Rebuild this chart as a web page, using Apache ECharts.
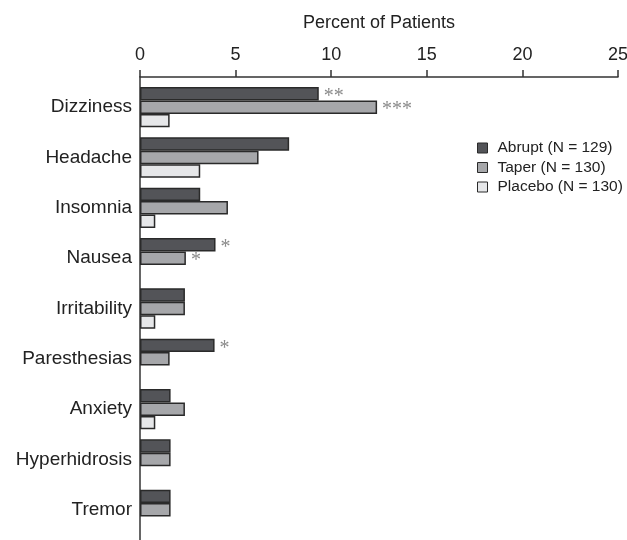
<!DOCTYPE html>
<html>
<head>
<meta charset="utf-8">
<script src="https://cdn.jsdelivr.net/npm/echarts@6/dist/echarts.min.js"></script>
<style>
  html, body { margin: 0; padding: 0; background: #fff; }
  #chart { width: 627px; height: 540px; }
</style>
</head>
<body>
<div id="chart"></div>
<script>
// symptoms, top to bottom
var symptoms = ['Dizziness', 'Headache', 'Insomnia', 'Nausea', 'Irritability',
  'Paresthesias', 'Anxiety', 'Hyperhidrosis', 'Tremor'];
// percent of patients ('-' = no bar)
var abrupt = [9.35, 7.8, 3.15, 3.95, 2.35, 3.9, 1.6, 1.6, 1.6];
var taper = [12.4, 6.2, 4.6, 2.4, 2.35, 1.55, 2.35, 1.6, 1.6];
var placebo = [1.55, 3.15, 0.8, '-', 0.8, '-', 0.8, '-', '-'];
// significance marks
var abruptMarks = ['**', '', '', '*', '', '*', '', '', ''];
var taperMarks = ['***', '', '', '*', '', '', '', '', ''];
var xTicks = [0, 5, 10, 15, 20, 25];

var FONT = "'Liberation Sans', Arial, Helvetica, sans-serif";
var chart = echarts.init(document.getElementById('chart'));

function marks(list) {
  return {
    show: true,
    position: 'right',
    distance: 5,
    offset: [0, 3],
    fontFamily: "'Liberation Serif', 'Times New Roman', serif",
    fontSize: 20,
    color: '#8a8a8a',
    formatter: function (p) { return list[p.dataIndex]; }
  };
}

function barSeries(name, data, color, label) {
  return {
    name: name,
    type: 'bar',
    data: data,
    xAxisIndex: 0,
    yAxisIndex: 0,
    barGap: '0%',
    barCategoryGap: '20%',
    itemStyle: { color: color, borderColor: '#2a2a2a', borderWidth: 1.5 },
    label: label || { show: false },
    emphasis: { disabled: true },
    animation: false
  };
}

var option = {
  backgroundColor: '#fff',
  textStyle: { fontFamily: FONT },
  grid: [
    { left: 140, right: 9, top: 82, height: 453, outerBoundsMode: 'none', containLabel: false },
    // only used to draw the full-height vertical axis line
    { left: 140, right: 9, top: 77, bottom: 0, outerBoundsMode: 'none', containLabel: false }
  ],
  legend: {
    orient: 'vertical',
    left: 472,
    top: 135,
    itemWidth: 10,
    itemHeight: 10,
    itemGap: 3.5,
    icon: 'rect',
    itemStyle: { borderColor: '#2a2a2a', borderWidth: 1 },
    textStyle: { fontFamily: FONT, fontSize: 15.5, color: '#222', padding: [0, 0, 0, 5] },
    data: ['Abrupt (N = 129)', 'Taper (N = 130)', 'Placebo (N = 130)']
  },
  xAxis: [
    {
      gridIndex: 0,
      type: 'value',
      position: 'top',
      offset: 5,
      min: xTicks[0],
      max: xTicks[xTicks.length - 1],
      interval: 5,
      name: 'Percent of Patients',
      nameLocation: 'middle',
      nameGap: 45,
      nameTextStyle: { fontFamily: FONT, fontSize: 18, color: '#222' },
      axisLine: { show: true, lineStyle: { color: '#333', width: 1.5 } },
      axisTick: { show: true, length: 7, lineStyle: { color: '#333', width: 1.5 } },
      axisLabel: { fontFamily: FONT, fontSize: 18, color: '#222', margin: 13 },
      splitLine: { show: false }
    },
    { gridIndex: 1, type: 'value', show: false }
  ],
  yAxis: [
    {
      gridIndex: 0,
      type: 'category',
      inverse: true,
      data: symptoms,
      axisLine: { show: false },
      axisTick: { show: false },
      axisLabel: { fontFamily: FONT, fontSize: 19, color: '#222', margin: 8 }
    },
    {
      gridIndex: 1,
      type: 'category',
      data: [''],
      axisLine: { show: true, lineStyle: { color: '#333', width: 1.5 } },
      axisTick: { show: false },
      axisLabel: { show: false }
    }
  ],
  series: [
    barSeries('Abrupt (N = 129)', abrupt, '#535458', marks(abruptMarks)),
    barSeries('Taper (N = 130)', taper, '#a6a7aa', marks(taperMarks)),
    barSeries('Placebo (N = 130)', placebo, '#e6e7e9')
  ]
};

chart.setOption(option);
</script>
</body>
</html>
